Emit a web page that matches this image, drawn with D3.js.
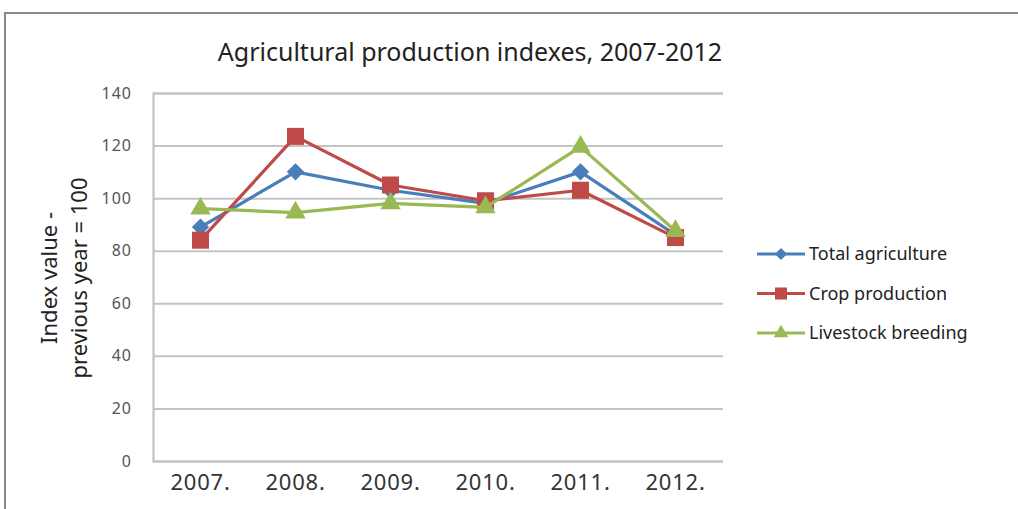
<!DOCTYPE html>
<html>
<head>
<meta charset="utf-8">
<script src="https://cdn.jsdelivr.net/npm/d3@7"></script>
<style>
  html, body { margin: 0; padding: 0; background: #fff; }
  svg { display: block; }
  text { font-family: "Noto Sans", "Open Sans", sans-serif; }
</style>
</head>
<body>
<svg id="chart" width="1018" height="509"></svg>
<script>
const title = "Agricultural production indexes, 2007-2012";
const years = ["2007.", "2008.", "2009.", "2010.", "2011.", "2012."];
const yTicks = [0, 20, 40, 60, 80, 100, 120, 140];
const seriesNames = ["Total agriculture", "Crop production", "Livestock breeding"];
const totalAgriculture = [89, 110, 103, 98, 110, 86];
const cropProduction = [84, 123.5, 105, 99, 103, 85];
const livestockBreeding = [96, 94.5, 98, 96.5, 119.5, 87.5];
const seriesColors = ["#4a7ebb", "#be4b48", "#98b954"];
const seriesSymbols = ["diamond", "square", "triangle"];
const yTitleLines = ["Index value -", "previous year = 100"];

const series = [totalAgriculture, cropProduction, livestockBreeding].map((vals, i) => ({
  name: seriesNames[i], values: vals, color: seriesColors[i], symbol: seriesSymbols[i]
}));

const svg = d3.select("#chart");

svg.append("path")
  .attr("d", "M5,509 L5,13 L1018,13")
  .attr("fill", "none").attr("stroke", "#8a8a8a").attr("stroke-width", 2);

const plot = { left: 153, right: 723, top: 93, bottom: 461 };

const x = d3.scaleBand().domain(years).range([plot.left, plot.right]);
const y = d3.scaleLinear().domain([0, 140]).range([plot.bottom, plot.top]);

svg.append("text")
  .attr("x", 470).attr("y", 61)
  .attr("text-anchor", "middle")
  .attr("font-size", 25)
  .attr("fill", "#222")
  .text(title);

const yAxis = d3.axisLeft(y).tickValues(yTicks).tickSize(-(plot.right - plot.left)).tickPadding(21);
const gy = svg.append("g").attr("transform", `translate(${plot.left},0)`).call(yAxis);
gy.select(".domain").attr("stroke", "#bdbdbd").attr("stroke-width", 2);
gy.selectAll(".tick line").attr("stroke", "#c4c4c4").attr("stroke-width", 2);
gy.selectAll(".tick text").attr("font-size", 16).attr("fill", "#555")
  .style("font-family", "'Noto Sans', sans-serif").attr("letter-spacing", 1);

const xAxis = d3.axisBottom(x).tickSize(0).tickPadding(13);
const gx = svg.append("g").attr("transform", `translate(0,${plot.bottom})`).call(xAxis);
gx.select(".domain").remove();
gx.selectAll(".tick text").attr("font-size", 22).attr("fill", "#333")
  .style("font-family", "'Noto Sans', sans-serif").attr("letter-spacing", 0.8);

const yt = svg.append("text")
  .attr("transform", "translate(0,278) rotate(-90)")
  .attr("text-anchor", "middle")
  .attr("font-size", 22).attr("fill", "#222");
yt.append("tspan").attr("x", 0).attr("y", 57).text(yTitleLines[0]);
yt.append("tspan").attr("x", 0).attr("y", 87).text(yTitleLines[1]);

const symbolType = { diamond: d3.symbolSquare, square: d3.symbolSquare, triangle: d3.symbolTriangle };
const symbolSize = { diamond: 150, square: 290, triangle: 180 };
const symbolRotate = { diamond: 45, square: 0, triangle: 0 };

const line = d3.line()
  .x((d, i) => x(years[i]) + x.bandwidth() / 2)
  .y(d => y(d));

series.forEach(s => {
  svg.append("path")
    .datum(s.values)
    .attr("d", line)
    .attr("fill", "none")
    .attr("stroke", s.color)
    .attr("stroke-width", 3.2)
    .attr("stroke-linejoin", "round");
  svg.append("g").selectAll("path")
    .data(s.values)
    .join("path")
    .attr("transform", (d, i) => `translate(${x(years[i]) + x.bandwidth() / 2},${y(d)}) rotate(${symbolRotate[s.symbol]})`)
    .attr("d", d3.symbol().type(symbolType[s.symbol]).size(symbolSize[s.symbol]))
    .attr("fill", s.color);
});

const legend = svg.append("g");
series.forEach((s, i) => {
  const cy = 254 + i * 39.5;
  legend.append("line")
    .attr("x1", 757).attr("x2", 805).attr("y1", cy).attr("y2", cy)
    .attr("stroke", s.color).attr("stroke-width", 3.2);
  legend.append("path")
    .attr("transform", `translate(781,${cy}) rotate(${symbolRotate[s.symbol]})`)
    .attr("d", d3.symbol().type(symbolType[s.symbol]).size(symbolSize[s.symbol] * 0.5))
    .attr("fill", s.color);
  legend.append("text")
    .attr("x", 809).attr("y", cy + 6)
    .attr("font-size", 18).attr("fill", "#222")
    .text(s.name);
});
</script>
</body>
</html>
